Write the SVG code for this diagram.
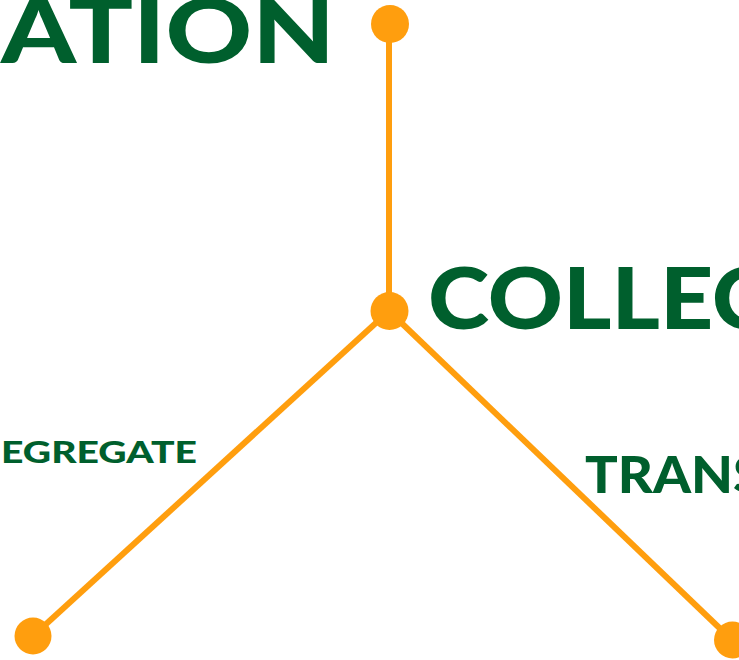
<svg xmlns="http://www.w3.org/2000/svg" width="739" height="660" viewBox="0 0 739 660">
<style>
.lbl{font-family:Lato,"Noto Sans","Liberation Sans",sans-serif;font-weight:900;fill:#005F2D}
.ln{stroke:#FF9E0E;stroke-width:6;fill:none}
.dot{fill:#FF9E0E}
</style>
<rect width="739" height="660" fill="#FFFFFF"/>
<g id="connectors">
<line class="ln" x1="389" y1="24" x2="389" y2="311"/>
<line class="ln" x1="389" y1="311" x2="33" y2="636"/>
<line class="ln" x1="389" y1="311" x2="732" y2="640"/>
</g>
<g id="node-top"><circle class="dot" cx="390" cy="24" r="19"/><text class="lbl" x="1" y="63" font-size="90" textLength="334" lengthAdjust="spacingAndGlyphs">ATION</text></g>
<g id="node-center"><circle class="dot" cx="389.5" cy="311" r="19"/><text class="lbl" x="428" y="329" font-size="85" textLength="345" lengthAdjust="spacingAndGlyphs">COLLEC</text></g>
<g id="node-left"><circle class="dot" cx="33" cy="636" r="18.5"/><text class="lbl" x="1" y="463" font-size="31" textLength="196" lengthAdjust="spacingAndGlyphs">EGREGATE</text></g>
<g id="node-right"><circle class="dot" cx="732.5" cy="640" r="18.5"/><text class="lbl" x="585" y="493" font-size="51" textLength="178" lengthAdjust="spacingAndGlyphs">TRANS</text></g>
</svg>
